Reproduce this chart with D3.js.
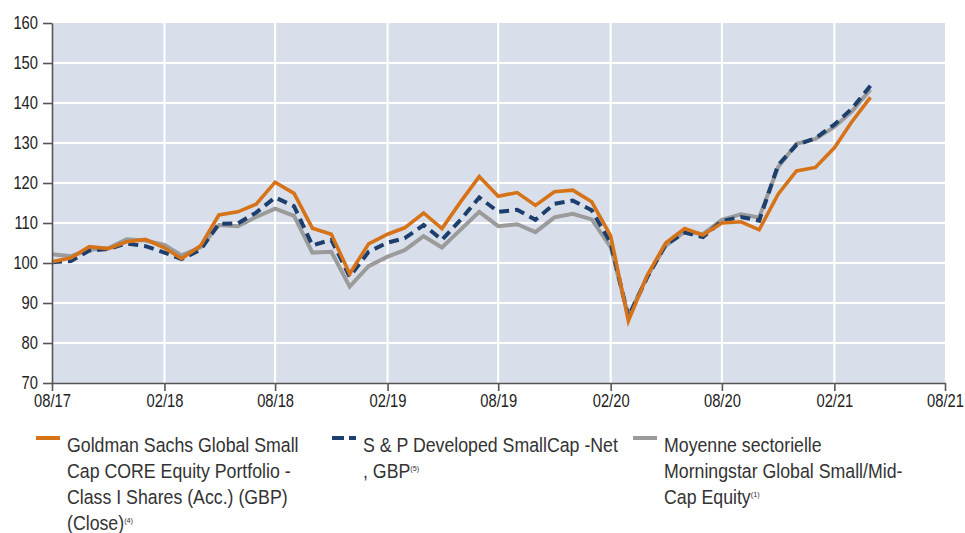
<!DOCTYPE html>
<html>
<head>
<meta charset="utf-8">
<script src="https://cdn.jsdelivr.net/npm/d3@7"></script>
<style>
  body { margin: 0; background: #fff; }
  svg { display: block; font-family: "Liberation Sans", Arial, sans-serif; }
  .axis text { font-size: 18px; fill: #222; }
  .axis path, .axis line { stroke: #555; stroke-width: 1.6; }
  .legend text { font-size: 19.5px; fill: #333; }
</style>
</head>
<body>
<svg id="chart" width="965" height="533"></svg>
<script>
// monthly points, 08/17 .. 04/21
const months = [
  "2017-08","2017-09","2017-10","2017-11","2017-12",
  "2018-01","2018-02","2018-03","2018-04","2018-05","2018-06","2018-07","2018-08","2018-09","2018-10","2018-11","2018-12",
  "2019-01","2019-02","2019-03","2019-04","2019-05","2019-06","2019-07","2019-08","2019-09","2019-10","2019-11","2019-12",
  "2020-01","2020-02","2020-03","2020-04","2020-05","2020-06","2020-07","2020-08","2020-09","2020-10","2020-11","2020-12",
  "2021-01","2021-02","2021-03","2021-04"
];

const fundValues = [100.3,101.3,104.1,103.6,105.3,105.9,103.8,101.1,104.3,112.0,112.8,114.7,120.2,117.4,108.7,107.2,97.3,
  104.8,107.2,108.8,112.5,108.6,115.4,121.6,116.7,117.6,114.4,117.8,118.2,115.3,106.8,85.5,97.0,105.0,108.6,107.0,
  110.0,110.3,108.3,117.2,123.0,123.9,128.8,135.2,141.4];

const indexValues = [100.2,100.5,103.1,103.5,104.9,104.2,102.6,101.0,103.3,109.8,109.9,112.6,116.4,114.2,104.4,105.8,96.6,
  102.8,105.1,106.2,109.5,105.8,110.9,116.4,112.8,113.3,110.8,114.8,115.6,113.2,105.0,86.5,96.5,104.6,107.6,106.5,
  110.5,111.5,110.6,124.5,129.5,131.2,134.6,138.5,144.3];

const sectorValues = [102.2,101.7,103.3,103.7,105.9,105.6,104.5,101.9,103.9,109.5,109.2,111.5,113.6,111.8,102.6,102.8,94.1,
  99.2,101.6,103.2,106.7,103.9,108.4,112.8,109.2,109.7,107.7,111.4,112.3,110.9,104.0,86.7,96.7,104.3,107.8,107.2,
  110.8,112.2,111.4,124.0,129.8,131.0,134.0,137.8,143.4];

const xTicks = ["2017-08","2018-02","2018-08","2019-02","2019-08","2020-02","2020-08","2021-02","2021-08"];
const yTicks = [70, 80, 90, 100, 110, 120, 130, 140, 150, 160];

// the original uses a condensed face; squeeze a regular one horizontally
const axisSqueeze = 0.82;
const legendSqueeze = 0.91;

const parse = d3.timeParse("%Y-%m");
const svg = d3.select("#chart");

const x = d3.scaleTime()
  .domain([parse("2017-08"), parse("2021-08")])
  .range([52, 945]);
const y = d3.scaleLinear().domain([70, 160]).range([383, 23]);

// plot background
svg.append("rect")
  .attr("x", x.range()[0]).attr("y", y(160))
  .attr("width", x.range()[1] - x.range()[0])
  .attr("height", y(70) - y(160))
  .attr("fill", "#d9dfea");

// grid
svg.append("g").selectAll("line").data(yTicks.slice(1, -1)).enter().append("line")
  .attr("x1", x.range()[0]).attr("x2", x.range()[1])
  .attr("y1", d => y(d)).attr("y2", d => y(d))
  .attr("stroke", "#fff").attr("stroke-width", 2);
svg.append("g").selectAll("line").data(xTicks.slice(1, -1)).enter().append("line")
  .attr("x1", d => x(parse(d))).attr("x2", d => x(parse(d)))
  .attr("y1", y(160)).attr("y2", y(70))
  .attr("stroke", "#fff").attr("stroke-width", 2);

// lines
const line = d3.line()
  .x((d, i) => x(parse(months[i])))
  .y(d => y(d));

svg.append("path").datum(sectorValues)
  .attr("d", line).attr("fill", "none")
  .attr("stroke", "#9b9b9b").attr("stroke-width", 4);
svg.append("path").datum(indexValues)
  .attr("d", line).attr("fill", "none")
  .attr("stroke", "#1c3f6e").attr("stroke-width", 4).attr("stroke-dasharray", "10,6");
svg.append("path").datum(fundValues)
  .attr("d", line).attr("fill", "none")
  .attr("stroke", "#d67318").attr("stroke-width", 3.6);

// axes
const yAxis = svg.append("g").attr("class", "axis")
  .attr("transform", "translate(52,0)")
  .call(d3.axisLeft(y).tickValues(yTicks).tickSize(9).tickPadding(5).tickSizeOuter(0));
yAxis.selectAll("text")
  .attr("x", -14 / axisSqueeze)
  .attr("transform", `scale(${axisSqueeze},1)`);

const xAxis = svg.append("g").attr("class", "axis")
  .attr("transform", "translate(0,383)")
  .call(d3.axisBottom(x).tickValues(xTicks.map(parse)).tickFormat(d3.timeFormat("%m/%y"))
    .tickSize(8).tickPadding(3).tickSizeOuter(0));
xAxis.selectAll("text").attr("transform", `scale(${axisSqueeze},1)`);

// legend
const legendItems = [
  { x: 36, color: "#d67318", dash: null, lines: ["Goldman Sachs Global Small", "Cap CORE Equity Portfolio -", "Class I Shares (Acc.) (GBP)", "(Close)"], note: "(4)" },
  { x: 332, color: "#1c3f6e", dash: "12,5", lines: ["S & P Developed SmallCap -Net", ", GBP"], note: "(5)" },
  { x: 633, color: "#9b9b9b", dash: null, lines: ["Moyenne sectorielle", "Morningstar Global Small/Mid-", "Cap Equity"], note: "(1)" }
];

const lg = svg.append("g").attr("class", "legend");
legendItems.forEach(item => {
  lg.append("line")
    .attr("x1", item.x).attr("x2", item.x + 24)
    .attr("y1", 438).attr("y2", 438)
    .attr("stroke", item.color).attr("stroke-width", 4)
    .attr("stroke-dasharray", item.dash);
  const t = lg.append("text")
    .attr("transform", `translate(${item.x + 31},0) scale(${legendSqueeze},1)`);
  item.lines.forEach((ln, i) => {
    t.append("tspan").attr("x", 0).attr("y", 452 + i * 26).text(ln);
    if (i === item.lines.length - 1) {
      t.append("tspan").attr("dy", -7).attr("font-size", 8).text(item.note);
    }
  });
});
</script>
</body>
</html>
